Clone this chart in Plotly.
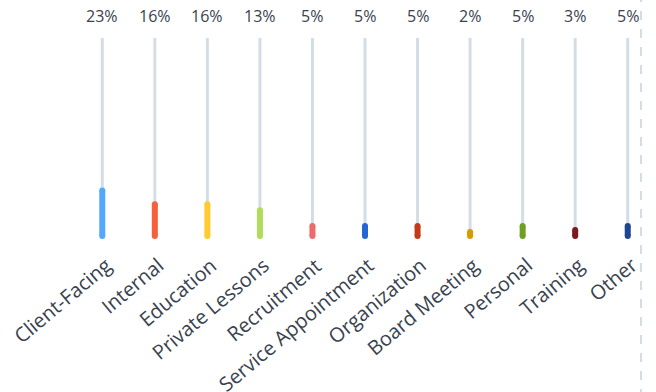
import plotly.graph_objects as go

categories = ["Client-Facing", "Internal", "Education", "Private Lessons", "Recruitment",
              "Service Appointment", "Organization", "Board Meeting", "Personal", "Training", "Other"]
values = [23, 16, 16, 13, 5, 5, 5, 2, 5, 3, 5]
labels = ["23%", "16%", "16%", "13%", "5%", "5%", "5%", "2%", "5%", "3%", "5%"]
colors = ["#52a8ff", "#f6603a", "#ffcb2f", "#b1db5b", "#ec6b6b", "#2467d3",
          "#c43a17", "#d99a00", "#6f9f23", "#7c1a20", "#1d4690"]
track_max = 100

fig = go.Figure()

# grey tracks
tx, ty = [], []
for c in categories:
    tx += [c, c, None]
    ty += [0, track_max, None]
fig.add_trace(go.Scatter(x=tx, y=ty, mode="lines", line=dict(color="#d3dde6", width=3),
                         hoverinfo="skip", showlegend=False, cliponaxis=False))

for c, v, col in zip(categories, values, colors):
    fig.add_trace(go.Scatter(x=[c, c], y=[0, v], mode="lines+markers",
                             line=dict(color=col, width=6),
                             marker=dict(color=col, size=6, symbol="circle"),
                             showlegend=False, cliponaxis=False))

for c, t in zip(categories, labels):
    fig.add_annotation(x=c, y=track_max, text=t, showarrow=False, yshift=22,
                       font=dict(family="Open Sans", size=16, color="#3a4250"))

# category labels (rotated)
for c in categories:
    fig.add_annotation(x=c, y=0, text=c, showarrow=False, textangle=-40,
                       xanchor="right", yanchor="top", xshift=17, yshift=-13,
                       font=dict(family="Open Sans", size=20, color="#3a4250"))

fig.add_shape(type="line", xref="paper", yref="paper", x0=0.9775, x1=0.9775, y0=-2, y1=2,
              line=dict(color="#d3dde6", width=2, dash="dash"))

fig.update_layout(
    width=656, height=392,
    margin=dict(l=76, r=2, t=38, b=156),
    paper_bgcolor="white", plot_bgcolor="white",
    font=dict(family="Open Sans", color="#3a4250"),
    xaxis=dict(type="category", range=[-0.5, 10.5], showgrid=False, zeroline=False,
               showline=False, showticklabels=False, automargin=False),
    yaxis=dict(range=[0, track_max], visible=False, showgrid=False, zeroline=False,
               automargin=False),
)

fig.write_html("out.html")
